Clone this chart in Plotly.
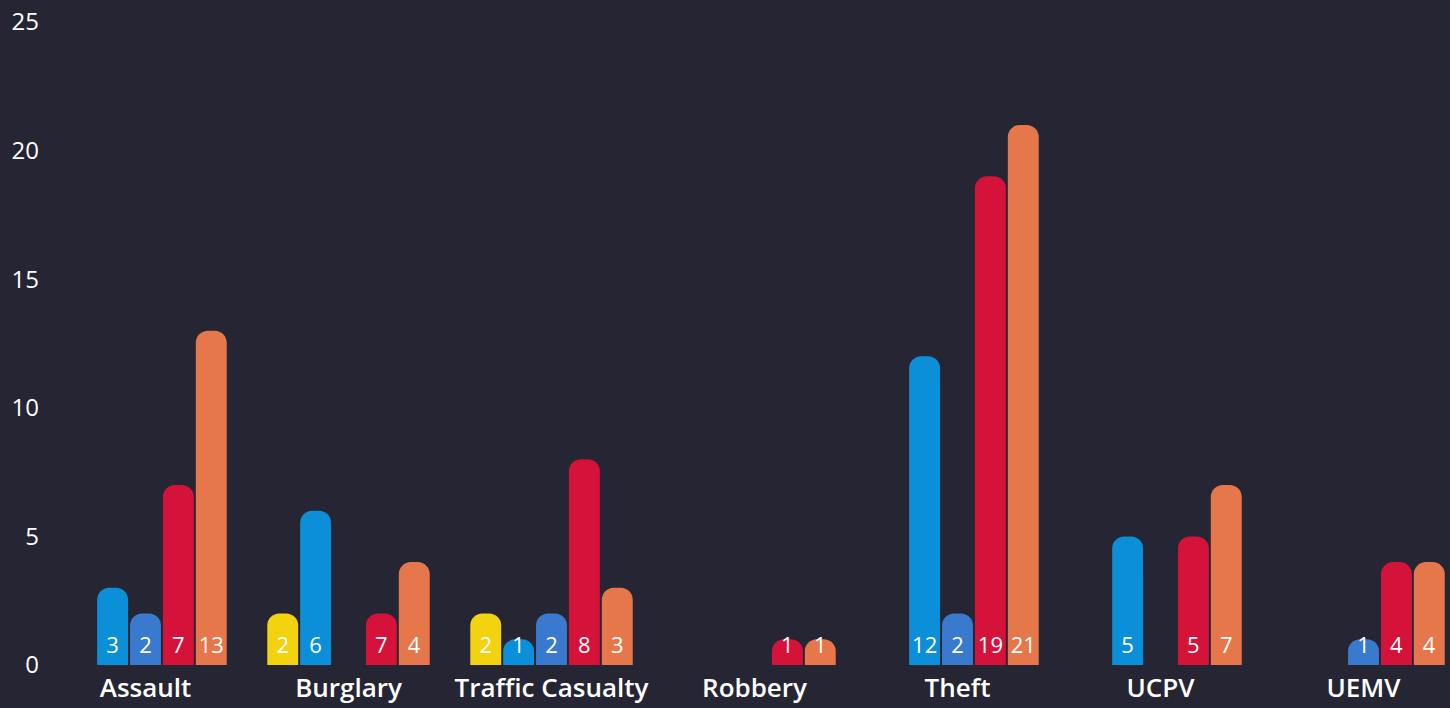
import plotly.graph_objects as go

categories = ["Assault", "Burglary", "Traffic Casualty", "Robbery", "Theft", "UCPV", "UEMV"]

yellow_vals = [None, 2, 2, None, None, None, None]
lightblue_vals = [3, 6, 1, None, 12, 5, None]
blue_vals = [2, None, 2, None, 2, None, 1]
red_vals = [7, 2, 8, 1, 19, 5, 4]
orange_vals = [13, 4, 3, 1, 21, 7, 4]

yellow_labels = ["", "2", "2", "", "", "", ""]
lightblue_labels = ["3", "6", "1", "", "12", "5", ""]
blue_labels = ["2", "", "2", "", "2", "", "1"]
red_labels = ["7", "7", "8", "1", "19", "5", "4"]
orange_labels = ["13", "4", "3", "1", "21", "7", "4"]

y_ticks = [0, 5, 10, 15, 20, 25]

BG = "#262533"
series = [
    (yellow_vals, yellow_labels, "#f3d20f"),
    (lightblue_vals, lightblue_labels, "#0b8fd8"),
    (blue_vals, blue_labels, "#3a7ace"),
    (red_vals, red_labels, "#d5123a"),
    (orange_vals, orange_labels, "#e5774a"),
]

fig = go.Figure()
# coloured rounded bars
for vals, labels, color in series:
    fig.add_trace(go.Bar(
        x=categories, y=vals,
        marker=dict(color=color, line=dict(width=0), cornerradius=12),
        showlegend=False, hoverinfo="skip",
    ))
# value labels (transparent square bars on an overlaid axis, so text is never shrunk)
for vals, labels, color in series:
    fig.add_trace(go.Bar(
        x=categories, y=vals, text=labels, yaxis="y2",
        marker=dict(color="rgba(0,0,0,0)", line=dict(width=0), cornerradius=0),
        textposition="inside", insidetextanchor="start", textangle=0,
        constraintext="none", cliponaxis=False,
        insidetextfont=dict(family="Open Sans", size=22, color="white"),
        showlegend=False, hoverinfo="skip",
    ))

fig.update_layout(
    width=1450, height=708,
    barmode="group", bargap=0.19, bargroupgap=0.06,
    paper_bgcolor=BG, plot_bgcolor=BG,
    margin=dict(l=44, r=0, t=22, b=43, autoexpand=False),
    font=dict(family="Open Sans", color="white"),
    xaxis=dict(range=[-0.5, 6.426], showgrid=False, zeroline=False, showline=False,
               ticks="", tickfont=dict(family="Open Sans", size=26, color="white", weight=600),
               ticklabelstandoff=5, automargin=False),
    yaxis=dict(range=[0, 25], tickvals=y_ticks, showgrid=False, zeroline=False, showline=False,
               ticks="", tickfont=dict(family="Open Sans", size=24, color="white", weight=500),
               ticklabelstandoff=4, automargin=False),
    yaxis2=dict(range=[-0.12, 24.88], overlaying="y", visible=False, showgrid=False, zeroline=False),
)

fig.write_html(
    "out.html",
    config={"displayModeBar": False},
    post_script="document.body.style.margin='0';document.body.style.background='%s';" % BG,
)
